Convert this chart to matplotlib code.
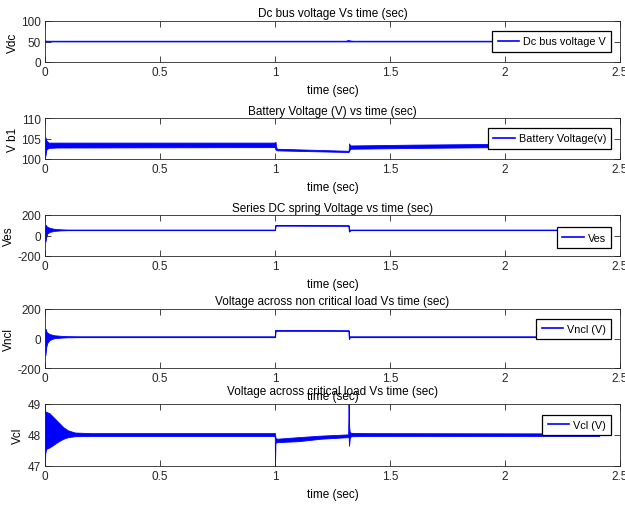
import matplotlib
matplotlib.use("Agg")
import matplotlib.pyplot as plt

plt.rcParams['font.family'] = ['Liberation Sans', 'DejaVu Sans']
plt.rcParams['font.size'] = 8.5
plt.rcParams['axes.unicode_minus'] = False

# ---------------- data (envelopes) ----------------
# Panel 1: DC bus voltage
t_vdc  = [0, 0.003, 0.006, 0.01, 1.31, 1.32, 1.33, 1.34, 2.41]
hi_vdc = [50, 51.5, 50.8, 50.5, 50.5, 52.5, 51.0, 50.5, 50.5]
lo_vdc = [49.5, 48.5, 49.2, 49.5, 49.5, 49.5, 49.5, 49.5, 49.5]

# Panel 2: battery voltage
t_vb  = [0, 0.002, 0.006, 0.015, 0.05, 0.999, 1.002, 1.006, 1.01, 1.32, 1.322, 1.326, 1.33, 1.6, 2.0, 2.41]
hi_vb = [103.5, 105.3, 104.5, 104.0, 104.0, 104.0, 104.2, 102.7, 102.5, 102.0, 103.8, 103.4, 103.3, 103.5, 103.7, 103.8]
lo_vb = [103.0, 100.8, 102.3, 102.7, 102.8, 102.9, 102.3, 102.2, 102.1, 101.7, 102.0, 102.4, 102.5, 102.7, 102.9, 103.0]

# Panel 3: series DC spring voltage
t_ves  = [0, 0.002, 0.005, 0.01, 0.02, 0.04, 0.07, 0.1, 0.999, 1.0, 1.003, 1.32, 1.321, 1.325, 1.33, 2.41]
hi_ves = [55, 105, 95, 85, 75, 65, 60, 58, 58, 100, 102, 100, 60, 58, 58, 58]
lo_ves = [0, -60, -20, 20, 35, 45, 50, 52, 52, 55, 96, 95, 38, 45, 52, 52]

# Panel 4: voltage across non critical load
t_vncl  = [0, 0.002, 0.005, 0.01, 0.02, 0.04, 0.07, 0.1, 0.15, 0.999, 1.0, 1.003, 1.32, 1.321, 1.325, 1.33, 2.41]
hi_vncl = [10, 65, 50, 40, 30, 22, 18, 16, 15, 15, 58, 58, 56, 15, 15, 15, 15]
lo_vncl = [0, -112, -60, -30, -10, 2, 6, 8, 9, 9, 10, 52, 52, -5, 8, 9, 9]

# Panel 5: voltage across critical load
t_vcl  = [0, 0.001, 0.005, 0.02, 0.04, 0.06, 0.08, 0.1, 0.13, 0.2, 0.999, 1.0, 1.002, 1.01, 1.1, 1.2,
          1.318, 1.32, 1.322, 1.325, 1.33, 1.4, 2.41]
hi_vcl = [49, 48.75, 48.75, 48.7, 48.55, 48.4, 48.25, 48.15, 48.08, 48.06, 48.06, 48.06, 47.9, 47.88,
          47.93, 47.98, 48.02, 49.0, 48.3, 48.1, 48.07, 48.06, 48.05]
lo_vcl = [47, 47.4, 47.55, 47.6, 47.7, 47.8, 47.88, 47.93, 47.96, 47.97, 47.97, 47.0, 47.75, 47.77,
          47.8, 47.88, 47.93, 47.95, 47.65, 47.9, 47.96, 47.97, 47.97]

titles = ["Dc bus voltage Vs time (sec)",
          "Battery Voltage (V) vs time (sec)",
          "Series DC spring Voltage vs time (sec)",
          "Voltage across non critical load Vs time (sec)",
          "Voltage across critical load Vs time (sec)"]
ylabels = ["Vdc", "V b1", "Ves", "Vncl", "Vcl"]
legends = ["Dc bus voltage V", "Battery Voltage(v)", "Ves", "Vncl (V)", "Vcl (V)"]
ylims = [(0, 100), (100, 110), (-200, 200), (-200, 200), (47, 49)]
yticks = [[0, 50, 100], [100, 105, 110], [-200, 0, 200], [-200, 0, 200], [47, 48, 49]]
xticks = [0, 0.5, 1, 1.5, 2, 2.5]
xticklabels = ["0", "0.5", "1", "1.5", "2", "2.5"]
xlabel = "time (sec)"

series = [(t_vdc, hi_vdc, lo_vdc), (t_vb, hi_vb, lo_vb), (t_ves, hi_ves, lo_ves),
          (t_vncl, hi_vncl, lo_vncl), (t_vcl, hi_vcl, lo_vcl)]

# ---------------- layout ----------------
W, H = 625, 506
fig = plt.figure(figsize=(W / 100, H / 100), dpi=100)
boxes_px = [(22, 63), (119, 160), (216, 257), (310, 369), (405, 467)]
left_px, right_px = 45, 620
title_pads = [3.5, 3.0, 3.0, 3.5, 7.0]
legend_anchor_y = [0.5, 0.5, 0.45, 0.66, 0.66]
ylabel_right_px = [19, 19, 15, 15, 24]

axc = '#262626'
for i in range(5):
    top, bot = boxes_px[i]
    ax = fig.add_axes([left_px / W, 1 - bot / H, (right_px - left_px) / W, (bot - top) / H])
    t, hi, lo = series[i]
    if i == 0:
        ax.plot(t, hi, color='blue', lw=0.7)
        ax.plot(t, lo, color='blue', lw=0.7)
        ax.fill_between(t, lo, hi, color='blue', lw=0)
    else:
        ax.fill_between(t, lo, hi, color='blue', lw=0.6, edgecolor='blue')
    ax.plot([], [], color='blue', lw=1.2, label=legends[i])
    ax.set_xlim(0, 2.5)
    ax.set_ylim(*ylims[i])
    ax.set_xticks(xticks)
    ax.set_xticklabels(xticklabels)
    ax.set_yticks(yticks[i])
    ax.tick_params(direction='in', length=4, width=0.6, top=True, right=True,
                   colors=axc, labelcolor=axc, pad=3)
    for s in ax.spines.values():
        s.set_color(axc)
        s.set_linewidth(0.6)
    ax.set_title(titles[i], pad=title_pads[i], color='#000000', fontsize=8.5)
    ax.set_xlabel(xlabel, labelpad=4, color='#000000')
    ax.set_ylabel(ylabels[i], color='#000000')
    ax.yaxis.set_label_coords((ylabel_right_px[i] - left_px) / (right_px - left_px), 0.5)
    leg = ax.legend(loc='center right', bbox_to_anchor=(0.985, legend_anchor_y[i]),
                    frameon=True, fancybox=False, framealpha=1, edgecolor='black',
                    handlelength=2.0, handletextpad=0.35, borderpad=0.5, borderaxespad=0,
                    fontsize=7.8)
    leg.get_frame().set_linewidth(0.9)

fig.savefig("out.png", dpi=100)
